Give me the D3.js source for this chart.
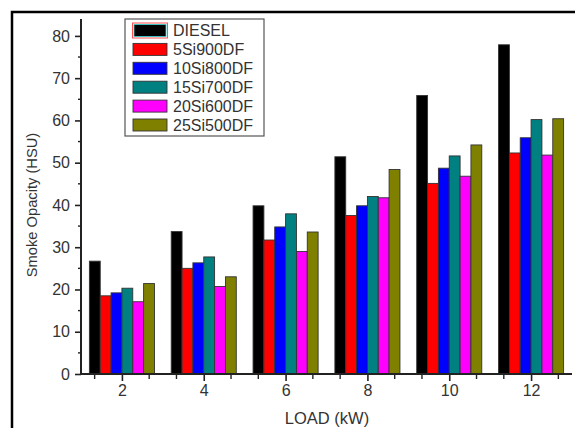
<!DOCTYPE html>
<html><head><meta charset="utf-8">
<script src="https://cdn.jsdelivr.net/npm/d3@7"></script>
<style>body{margin:0;background:#fff}svg{display:block;font-family:"Liberation Sans",Arial,sans-serif}</style>
</head><body><svg id="c" width="575" height="428"></svg>
<script>
const loads = [2, 4, 6, 8, 10, 12];
const seriesNames = ["DIESEL", "5Si900DF", "10Si800DF", "15Si700DF", "20Si600DF", "25Si500DF"];
const colors = ["#000000", "#ff0000", "#0000ff", "#008080", "#ff00ff", "#808000"];
const diesel    = [26.7, 33.7, 39.8, 51.4, 65.9, 77.9];
const si5_900   = [18.5, 25.0, 31.7, 37.5, 45.1, 52.3];
const si10_800  = [19.2, 26.3, 34.8, 39.8, 48.7, 55.9];
const si15_700  = [20.3, 27.7, 37.9, 42.0, 51.6, 60.2];
const si20_600  = [17.1, 20.7, 29.0, 41.7, 46.8, 51.8];
const si25_500  = [21.4, 23.0, 33.6, 48.4, 54.2, 60.4];
const yTicks = [0, 10, 20, 30, 40, 50, 60, 70, 80];
const xTicks = [2, 4, 6, 8, 10, 12];

const series = [diesel, si5_900, si10_800, si15_700, si20_600, si25_500];
const svg = d3.select("#c");

// outer frame
svg.append("rect").attr("x", 12).attr("y", 12).attr("width", 600).attr("height", 500)
  .attr("fill", "none").attr("stroke", "#000").attr("stroke-width", 2.5);

const x = d3.scaleLinear().domain([1, 13]).range([81, 572]);
const y = d3.scaleLinear().domain([0, 84]).range([374, 19]);
const barW = 0.265;

const g = svg.append("g");
series.forEach((vals, si) => {
  g.selectAll(null).data(vals).enter().append("rect")
    .attr("x", (d, i) => x(loads[i] + (si - 3) * barW))
    .attr("width", x(barW) - x(0))
    .attr("y", d => y(d))
    .attr("height", d => y(0) - y(d))
    .attr("fill", colors[si])
    .attr("stroke", "#333").attr("stroke-width", 0.9);
});

const axisColor = "#222";
const fam = "Liberation Sans, Arial, sans-serif";
// Y axis
const ya = svg.append("g").attr("transform", "translate(81,0)")
  .call(d3.axisLeft(y).tickValues(yTicks).tickSize(6).tickPadding(5).tickSizeOuter(0));
ya.select(".domain").remove();
ya.selectAll("line").attr("stroke", axisColor).attr("stroke-width", 1.6);
ya.selectAll("text").attr("font-size", 16).attr("fill", "#333").attr("font-family", fam);
const yMinor = d3.range(5, 84, 10);
svg.append("g").selectAll("line").data(yMinor).enter().append("line")
  .attr("x1", 78).attr("x2", 81).attr("y1", d => y(d)).attr("y2", d => y(d))
  .attr("stroke", axisColor).attr("stroke-width", 1.4);
svg.append("line").attr("x1", 81).attr("x2", 81).attr("y1", y(84)).attr("y2", y(0) + 1)
  .attr("stroke", axisColor).attr("stroke-width", 2);

// X axis
const xa = svg.append("g").attr("transform", "translate(0,374)")
  .call(d3.axisBottom(x).tickValues(xTicks).tickSize(7).tickPadding(4).tickSizeOuter(0));
xa.select(".domain").remove();
xa.selectAll("line").attr("stroke", axisColor).attr("stroke-width", 1.6);
xa.selectAll("text").attr("font-size", 16).attr("fill", "#333").attr("font-family", fam);
const xMinor = [];
xTicks.forEach(t => { xMinor.push(t - 2/3, t + 2/3); });
svg.append("g").selectAll("line").data(xMinor).enter().append("line")
  .attr("x1", d => x(d)).attr("x2", d => x(d)).attr("y1", 374).attr("y2", 379)
  .attr("stroke", axisColor).attr("stroke-width", 1.4);
svg.append("line").attr("x1", 80).attr("x2", 572).attr("y1", 374).attr("y2", 374)
  .attr("stroke", axisColor).attr("stroke-width", 2);

// axis titles
svg.append("text").attr("x", 327).attr("y", 424).attr("text-anchor", "middle")
  .attr("font-size", 16.5).attr("fill", "#333").text("LOAD (kW)");
svg.append("text").attr("transform", "translate(37,205) rotate(-90)").attr("text-anchor", "middle")
  .attr("font-size", 14.7).attr("fill", "#333").text("Smoke Opacity (HSU)");

// legend
const lg = svg.append("g");
lg.append("rect").attr("x", 125).attr("y", 19).attr("width", 139).attr("height", 117)
  .attr("fill", "#fff").attr("stroke", "#555").attr("stroke-width", 1.2);
seriesNames.forEach((n, i) => {
  const cy = 30.5 + i * 18.9;
  if (i === 0) {
    lg.append("rect").attr("x", 132.5).attr("y", cy - 7.5).attr("width", 35).attr("height", 15)
      .attr("fill", "none").attr("stroke", "#ff5050").attr("stroke-width", 1);
    lg.append("rect").attr("x", 134).attr("y", cy - 6).attr("width", 32).attr("height", 12)
      .attr("fill", colors[i]).attr("stroke", "#30d0d0").attr("stroke-width", 0.8);
  } else {
    lg.append("rect").attr("x", 133).attr("y", cy - 6).attr("width", 34).attr("height", 12)
      .attr("fill", colors[i]).attr("stroke", "#333").attr("stroke-width", 0.9);
  }
  lg.append("text").attr("x", 173).attr("y", cy + 5.5).attr("font-size", 16)
    .attr("fill", "#333").text(n);
});
</script></body></html>
